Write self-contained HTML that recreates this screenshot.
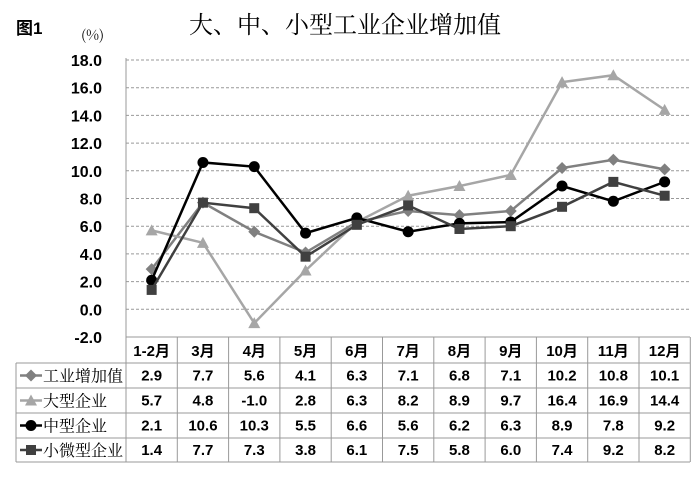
<!DOCTYPE html><html><head><meta charset="utf-8"><style>body{margin:0;background:#fff}svg text{font-family:"Liberation Sans","Noto Sans CJK SC",sans-serif}</style></head><body>
<svg width="700" height="472" xmlns="http://www.w3.org/2000/svg">
<text x="16" y="34" font-size="17" font-weight="bold">图1</text>
<text x="81" y="40" font-size="14" style="font-family:'Noto Serif CJK SC',serif">(%)</text>
<text x="345" y="33" font-size="24" text-anchor="middle" style="font-family:'Noto Serif CJK SC',serif">大、中、小型工业企业增加值</text>
<g font-size="16" font-weight="bold" text-anchor="end" id="yl"></g>
<g id="g"></g>
<g id="s"></g>
<g id="t" font-size="15" font-weight="bold" text-anchor="middle"></g>
<script>
var NS="http://www.w3.org/2000/svg";
function el(p,t,a,txt){var e=document.createElementNS(NS,t);for(var k in a)e.setAttribute(k,a[k]);if(txt!=null)e.textContent=txt;document.getElementById(p).appendChild(e);return e;}
function Y(v){return 309.3-v*13.85;}
var X0=126,W=51.3;function X(i){return X0+W*(i+0.5);}
for(var v=-2;v<=18;v+=2){el("yl","text",{x:102,y:Y(v)+6},v.toFixed(1));if(v>-2)el("g","line",{x1:126,x2:690,y1:Y(v),y2:Y(v),stroke:"#999","stroke-dasharray":"3,2","stroke-width":1});}
el("g","line",{x1:126,x2:126,y1:58,y2:337,stroke:"#999"});
var d=[[2.9,7.7,5.6,4.1,6.3,7.1,6.8,7.1,10.2,10.8,10.1],[5.7,4.8,-1.0,2.8,6.3,8.2,8.9,9.7,16.4,16.9,14.4],[2.1,10.6,10.3,5.5,6.6,5.6,6.2,6.3,8.9,7.8,9.2],[1.4,7.7,7.3,3.8,6.1,7.5,5.8,6.0,7.4,9.2,8.2]];
var col=["#808080","#a6a6a6","#000","#404040"],names=["工业增加值","大型企业","中型企业","小微型企业"];
function mark(p,k,x,y){if(k==0)el(p,"polygon",{points:(x-6)+","+y+" "+x+","+(y-6)+" "+(x+6)+","+y+" "+x+","+(y+6),fill:col[k]});else if(k==1)el(p,"polygon",{points:(x-6)+","+(y+5)+" "+x+","+(y-6)+" "+(x+6)+","+(y+5),fill:col[k]});else if(k==2)el(p,"circle",{cx:x,cy:y,r:5.5,fill:col[k]});else el(p,"rect",{x:x-5,y:y-5,width:10,height:10,fill:col[k]});}
for(var k=0;k<4;k++){var pts=d[k].map(function(v,i){return X(i)+","+Y(v)}).join(" ");el("s","polyline",{points:pts,fill:"none",stroke:col[k],"stroke-width":2.5});d[k].forEach(function(v,i){mark("s",k,X(i),Y(v));});}
var rows=[337,363,388,413,438,462];
for(var r=1;r<6;r++)el("g","line",{x1:16,x2:690,y1:rows[r],y2:rows[r],stroke:"#999"});
el("g","line",{x1:126,x2:690,y1:337,y2:337,stroke:"#999"});
el("g","line",{x1:16,x2:16,y1:363,y2:462,stroke:"#999"});
for(var i=0;i<=11;i++)el("g","line",{x1:X0+W*i,x2:X0+W*i,y1:337,y2:462,stroke:"#999"});
var cats=["1-2月","3月","4月","5月","6月","7月","8月","9月","10月","11月","12月"];
cats.forEach(function(c,i){el("t","text",{x:X(i),y:356},c);});
for(var k=0;k<4;k++){var cy=(rows[k+1]+rows[k+2])/2;d[k].forEach(function(v,i){el("t","text",{x:X(i),y:cy+5},v.toFixed(1));});
el("s","line",{x1:20,x2:42,y1:cy,y2:cy,stroke:col[k],"stroke-width":2.5});mark("s",k,31,cy);
el("s","text",{x:43,y:cy+6,"font-size":16,style:"font-family:'Noto Serif CJK SC',serif"},names[k]);}
</script>
</svg></body></html>
